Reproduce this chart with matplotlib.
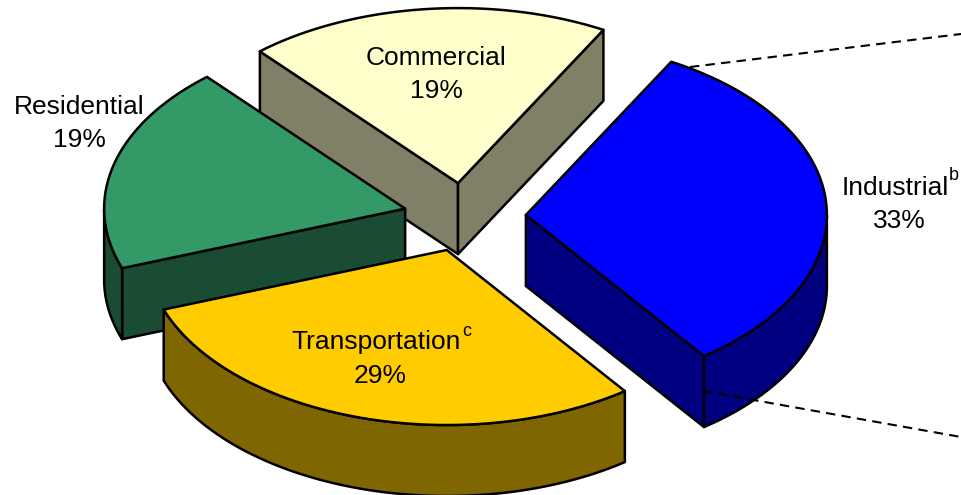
import numpy as np
import matplotlib
matplotlib.use('Agg')
import matplotlib.pyplot as plt
from matplotlib.patches import Polygon

labels = ['Industrial', 'Transportation', 'Residential', 'Commercial']
shares = [33, 29, 19, 19]
top_colors = ['#0000FF', '#FFCC00', '#339966', '#FFFFCC']
side_colors = ['#000080', '#806600', '#1A4C33', '#808066']

# pie projection, in pixels
cx, cy = 464.6, 217.2
rx, ry = 301, 175
depth = 71
explode = 0.204
explode_y = 0.196
start = 63.1

plt.rcParams['font.family'] = ['Liberation Sans', 'DejaVu Sans']
fig = plt.figure(figsize=(9.61, 4.95), dpi=100)
ax = fig.add_axes([0, 0, 1, 1])
ax.set_xlim(0, 961)
ax.set_ylim(495, 0)
ax.axis('off')


def warp(a):
    # small correction for the perspective of the 3D view
    r = np.radians(a)
    return a - 1.5 * np.sin(r) - 0.8 * np.sin(2 * r)


def rim(a, ox, oy):
    r = np.radians(a)
    return np.column_stack([ox + rx * np.cos(r), oy - ry * np.sin(r)])


def face(pts, color):
    ax.add_patch(Polygon(pts, closed=True, fc=color, ec='black', lw=1.8, joinstyle='round'))


angles = start - np.concatenate([[0], np.cumsum(shares)]) * 3.6
edges = warp(angles)

wedges = []
for i in range(len(shares)):
    a0, a1 = edges[i], edges[i + 1]
    mid = np.radians((a0 + a1) / 2)
    ox = cx + explode * rx * np.cos(mid)
    oy = cy - explode_y * ry * np.sin(mid)
    wedges.append((i, a0, a1, ox, oy))

# back to front
for i, a0, a1, ox, oy in sorted(wedges, key=lambda w: w[4]):
    if labels[i] == 'Industrial':
        continue
    arc = rim(np.linspace(a0, a1, 200), ox, oy)
    apex = np.array([ox, oy])
    mid = arc[100] - apex
    down = np.array([0, depth])
    for p in (arc[0], arc[-1]):
        e = p - apex
        if np.sign(e[0] * mid[1] - e[1] * mid[0]) != np.sign(e[0]):
            face([apex, p, p + down, apex + down], side_colors[i])
    front = arc[np.sin(np.radians(np.linspace(a0, a1, 200))) < 0]
    if len(front):
        face(np.vstack([front, front[::-1] + down]), side_colors[i])
    face(np.vstack([apex, arc]), top_colors[i])

# industrial slice goes last
i, a0, a1, ox, oy = wedges[0]
arc = rim(np.linspace(a0, a1, 200), ox, oy)
apex = np.array([ox, oy])
down = np.array([0, depth])
face([apex, arc[-1], arc[-1] + down, apex + down], side_colors[i])
front = arc[np.sin(np.radians(np.linspace(a0, a1, 200))) < 0]
face(np.vstack([front, front[::-1] + down]), side_colors[i])
face(np.vstack([apex, arc]), top_colors[i])

# leader lines running off to the right
ax.plot([690, 961], [67, 34], color='black', lw=1.5, ls=(0, (4.5, 3)))
ax.plot([703, 961], [391, 437], color='black', lw=1.5, ls=(0, (4.5, 3)))

fs = 19
ax.text(842, 188, labels[0], fontsize=fs, ha='left', va='center')
ax.text(949, 176, 'b', fontsize=13, ha='left', va='center')
ax.text(899, 221, f'{shares[0]}%', fontsize=fs, ha='center', va='center')
ax.text(291, 342, labels[1], fontsize=fs, ha='left', va='center')
ax.text(462, 332, 'c', fontsize=13, ha='left', va='center')
ax.text(380, 376, f'{shares[1]}%', fontsize=fs, ha='center', va='center')
ax.text(79, 107, labels[2], fontsize=fs, ha='center', va='center')
ax.text(79, 140, f'{shares[2]}%', fontsize=fs, ha='center', va='center')
ax.text(436, 58, labels[3], fontsize=fs, ha='center', va='center')
ax.text(436, 91, f'{shares[3]}%', fontsize=fs, ha='center', va='center')

fig.savefig('out.png', dpi=100)
